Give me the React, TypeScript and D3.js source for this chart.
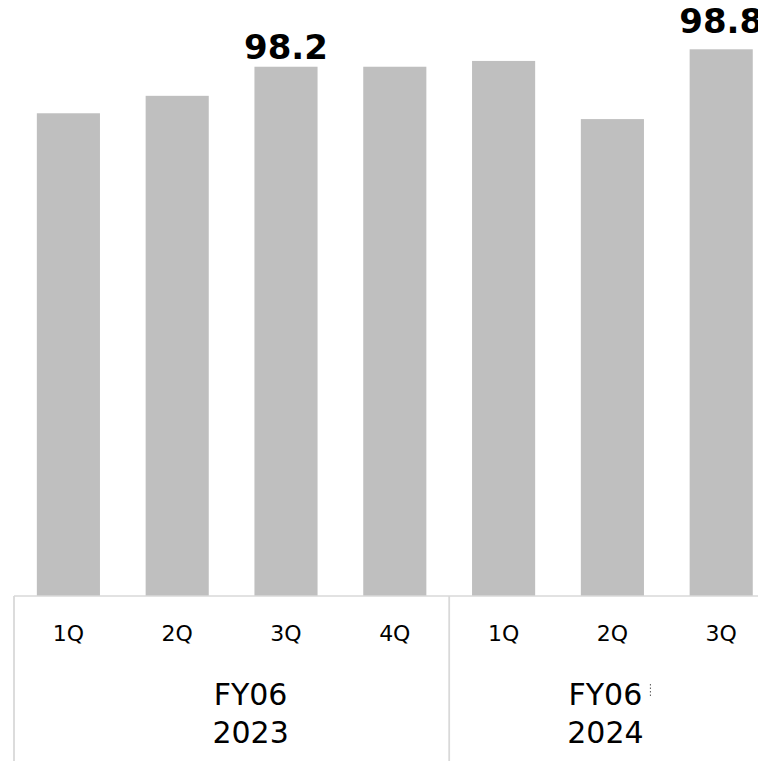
import React, {Component} from "react";
import * as d3 from "d3";

// quarterly values
const quarters = ["1Q", "2Q", "3Q", "4Q", "1Q", "2Q", "3Q"];
const values = [96.6, 97.2, 98.2, 98.2, 98.4, 96.4, 98.8];
const fiscalYears = ["FY06", "FY06"];
const years = ["2023", "2024"];
const groupSizes = [4, 3];
const labelledBars = [2, 6];
const labelGaps = [8, 16];
const groupShift = [19, -7];

class App extends Component<{}, {}> {
    svgRef = React.createRef<SVGSVGElement>();

    componentDidMount() {
        const width = 758;
        const height = 761;
        const font = "Verdana, 'DejaVu Sans', sans-serif";
        const grid = "#d9d9d9";
        const svg: any = d3.select(this.svgRef.current);
        svg.selectAll("*").remove();
        svg.attr("width", width).attr("height", height);

        const plotLeft = 14;
        const step = 108.8;
        const baseY = 596;
        const x = d3.scaleBand<number>()
            .domain(d3.range(quarters.length))
            .range([plotLeft, plotLeft + step * quarters.length])
            .paddingInner(0.42)
            .paddingOuter(0.21);
        const y = d3.scaleLinear()
            .domain([80, 100])
            .range([baseY, baseY - 20 * 29.08]);

        svg.append("g")
            .selectAll("rect")
            .data(values)
            .enter()
            .append("rect")
            .attr("x", (_d: number, i: number) => x(i))
            .attr("y", (d: number) => y(d))
            .attr("width", x.bandwidth())
            .attr("height", (d: number) => y(80) - y(d))
            .attr("fill", "#bfbfbf");

        // value labels
        svg.append("g")
            .selectAll("text")
            .data(labelledBars)
            .enter()
            .append("text")
            .attr("x", (i: number) => (x(i) as number) + x.bandwidth() / 2)
            .attr("y", (i: number, k: number) => y(values[i]) - labelGaps[k])
            .attr("text-anchor", "middle")
            .attr("font-family", font)
            .attr("font-weight", "bold")
            .attr("font-size", 34)
            .attr("fill", "#000")
            .text((i: number) => values[i].toFixed(1));

        // category axis frame
        const axis = svg.append("g");
        axis.append("line")
            .attr("x1", plotLeft).attr("x2", width)
            .attr("y1", baseY).attr("y2", baseY)
            .attr("stroke", grid).attr("stroke-width", 1.5);

        let start = 0;
        groupSizes.forEach((n, g) => {
            const left = x.step() * start + plotLeft;
            axis.append("line")
                .attr("x1", left).attr("x2", left)
                .attr("y1", baseY).attr("y2", height)
                .attr("stroke", grid).attr("stroke-width", 1.8);
            const centre = left + (x.step() * n) / 2 + groupShift[g];
            axis.append("text")
                .attr("x", centre).attr("y", 705)
                .attr("text-anchor", "middle")
                .attr("font-family", font).attr("font-size", 30)
                .text(fiscalYears[g]);
            axis.append("text")
                .attr("x", centre).attr("y", 743)
                .attr("text-anchor", "middle")
                .attr("font-family", font).attr("font-size", 30)
                .text(years[g]);
            if (g === 1) {
                // stray clipped glyph edge after the second FY label
                axis.append("line")
                    .attr("x1", centre + 45).attr("x2", centre + 45)
                    .attr("y1", 684).attr("y2", 697)
                    .attr("stroke", "#555").attr("stroke-width", 1)
                    .attr("stroke-dasharray", "1.5,2");
            }
            start += n;
        });

        axis.selectAll("text.q")
            .data(quarters)
            .enter()
            .append("text")
            .attr("class", "q")
            .attr("x", (_d: string, i: number) => (x(i) as number) + x.bandwidth() / 2)
            .attr("y", baseY + 45)
            .attr("text-anchor", "middle")
            .attr("font-family", font)
            .attr("font-size", 22)
            .text((d: string) => d);
    }

    render() {
        return (
            <svg ref={this.svgRef} style={{position: "absolute", left: 0, top: 0, background: "#fff"}}></svg>
        );
    }
}

export default App;
